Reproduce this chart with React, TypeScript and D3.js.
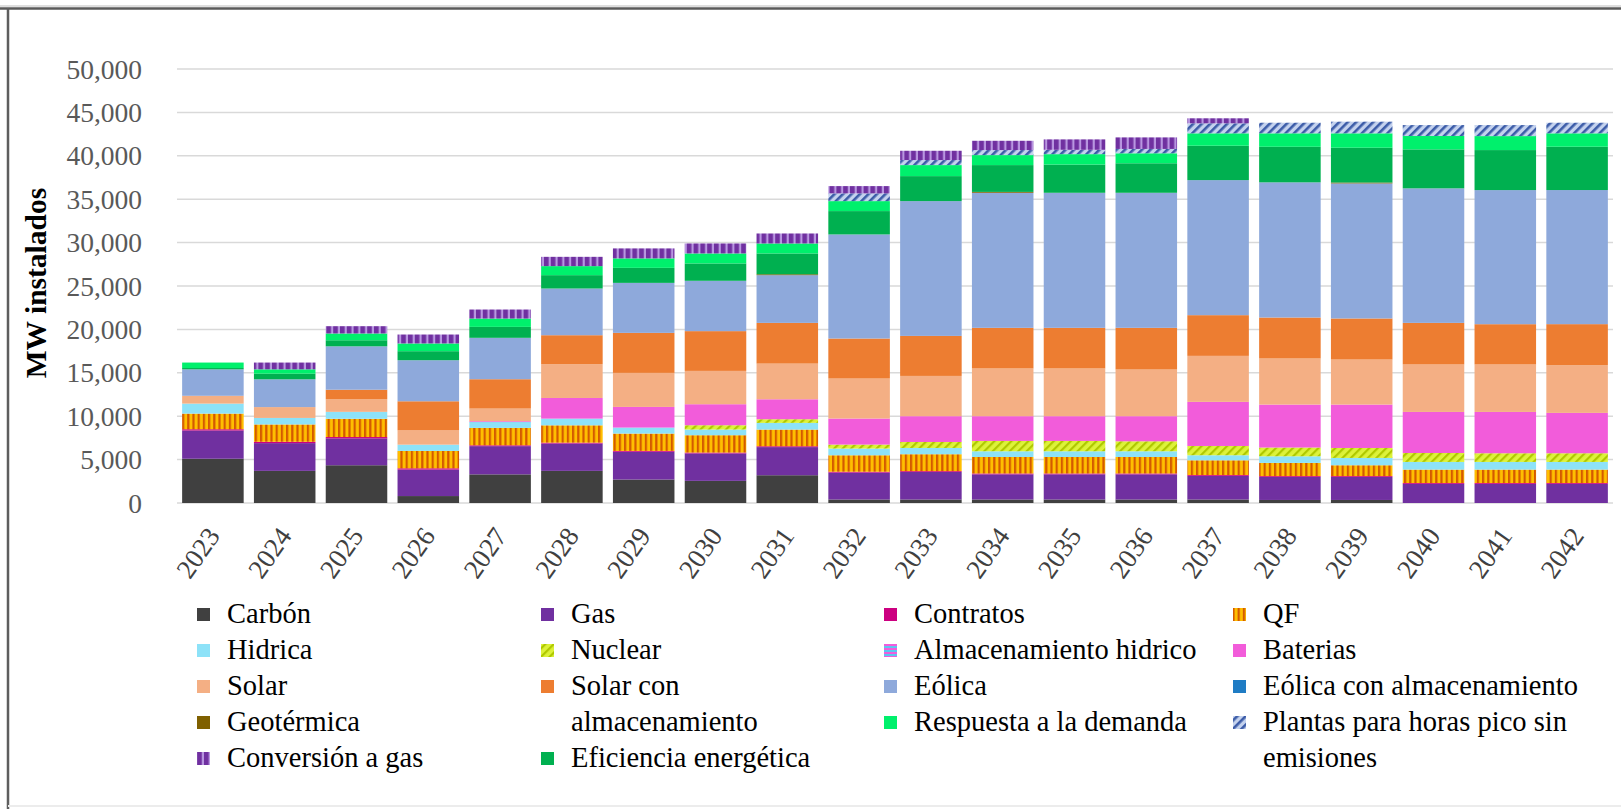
import React from "react";
import * as d3 from "d3";

const years = ["2023","2024","2025","2026","2027","2028","2029","2030","2031","2032","2033","2034","2035","2036","2037","2038","2039","2040","2041","2042"];

const carbon = [5100,3700,4350,800,3300,3700,2700,2550,3200,400,400,400,400,400,400,350,350,0,0,0];
const gas = [3250,3200,3100,3050,3250,3150,3200,3160,3240,3100,3170,2900,2900,2900,2720,2650,2650,2200,2200,2200];
const contratos = [150,150,150,150,100,100,100,100,100,100,100,100,100,100,100,100,100,100,100,100];
const qf = [1800,2000,2100,2000,2000,2000,2000,2000,1920,1900,1950,1900,1900,1900,1700,1520,1250,1550,1550,1550];
const hidrica = [1150,750,800,720,620,770,690,650,770,770,720,660,660,660,580,760,840,880,880,880];
const nuclear = [0,0,0,0,0,0,0,500,420,460,690,1190,1190,1150,1070,1010,1150,1030,1000,1000];
const almHidrico = [0,0,0,0,150,0,0,0,0,0,0,0,0,0,0,0,0,0,0,0];
const baterias = [0,0,0,0,0,2380,2380,2420,2300,3000,2970,2850,2850,2890,5080,4950,5000,4730,4760,4650];
const solar = [900,1250,1450,1650,1460,3890,3920,3840,4110,4610,4640,5500,5500,5380,5300,5310,5190,5470,5470,5500];
const solarAlm = [0,0,1100,3350,3380,3340,4610,4580,4690,4610,4610,4680,4680,4800,4690,4720,4730,4790,4640,4725];
const eolica = [3050,3200,5000,4730,4770,5380,5760,5800,5500,11990,15530,15560,15560,15560,15560,15570,15560,15500,15450,15450];
const eolicaAlm = [0,0,0,0,0,0,0,0,0,0,0,0,0,0,0,0,0,0,0,0];
const geotermica = [0,0,0,0,0,0,0,0,100,0,0,100,0,0,0,0,100,0,0,0];
const eficiencia = [150,650,700,1040,1260,1540,1730,2000,2400,2690,2880,3090,3250,3400,3960,4100,4010,4490,4610,4990];
const respuesta = [630,500,780,890,960,1040,1090,1150,1150,1150,1270,1150,1200,1150,1430,1550,1660,1540,1610,1545];
const plantasPico = [0,0,0,0,0,0,0,0,0,890,580,580,500,500,1150,1220,1340,1260,1270,1220];
const conversion = [0,780,840,1030,1040,1070,1150,1150,1150,840,1070,1070,1200,1330,580,0,0,0,0,0];

const yTicks = [0,5000,10000,15000,20000,25000,30000,35000,40000,45000,50000];

const seriesDefs = [
  { key: "carbon", name: "Carbón", values: carbon, fill: "#404040" },
  { key: "gas", name: "Gas", values: gas, fill: "#7030A0" },
  { key: "contratos", name: "Contratos", values: contratos, fill: "#CC0080" },
  { key: "qf", name: "QF", values: qf, fill: "url(#pQF)" },
  { key: "hidrica", name: "Hidrica", values: hidrica, fill: "#8DE2F8" },
  { key: "nuclear", name: "Nuclear", values: nuclear, fill: "url(#pNuc)" },
  { key: "almHidrico", name: "Almacenamiento hidrico", values: almHidrico, fill: "url(#pAlm)" },
  { key: "baterias", name: "Baterias", values: baterias, fill: "#F25CDA" },
  { key: "solar", name: "Solar", values: solar, fill: "#F4AF84" },
  { key: "solarAlm", name: "Solar con almacenamiento", values: solarAlm, fill: "#ED7D31" },
  { key: "eolica", name: "Eólica", values: eolica, fill: "#8EA9DB" },
  { key: "eolicaAlm", name: "Eólica con almacenamiento", values: eolicaAlm, fill: "#1F7CC4" },
  { key: "geotermica", name: "Geotérmica", values: geotermica, fill: "#7F6000" },
  { key: "eficiencia", name: "Eficiencia energética", values: eficiencia, fill: "#00B050" },
  { key: "respuesta", name: "Respuesta a la demanda", values: respuesta, fill: "#00F06C" },
  { key: "plantasPico", name: "Plantas para horas pico sin emisiones", values: plantasPico, fill: "url(#pPico)" },
  { key: "conversion", name: "Conversión a gas", values: conversion, fill: "url(#pConv)" },
];

// legend layout: column, row, lines
const legendItems: { key: string; col: number; row: number; lines: string[] }[] = [
  { key: "carbon", col: 0, row: 0, lines: ["Carbón"] },
  { key: "hidrica", col: 0, row: 1, lines: ["Hidrica"] },
  { key: "solar", col: 0, row: 2, lines: ["Solar"] },
  { key: "geotermica", col: 0, row: 3, lines: ["Geotérmica"] },
  { key: "conversion", col: 0, row: 4, lines: ["Conversión a gas"] },
  { key: "gas", col: 1, row: 0, lines: ["Gas"] },
  { key: "nuclear", col: 1, row: 1, lines: ["Nuclear"] },
  { key: "solarAlm", col: 1, row: 2, lines: ["Solar con", "almacenamiento"] },
  { key: "eficiencia", col: 1, row: 4, lines: ["Eficiencia energética"] },
  { key: "contratos", col: 2, row: 0, lines: ["Contratos"] },
  { key: "almHidrico", col: 2, row: 1, lines: ["Almacenamiento hidrico"] },
  { key: "eolica", col: 2, row: 2, lines: ["Eólica"] },
  { key: "respuesta", col: 2, row: 3, lines: ["Respuesta a la demanda"] },
  { key: "qf", col: 3, row: 0, lines: ["QF"] },
  { key: "baterias", col: 3, row: 1, lines: ["Baterias"] },
  { key: "eolicaAlm", col: 3, row: 2, lines: ["Eólica con almacenamiento"] },
  { key: "plantasPico", col: 3, row: 3, lines: ["Plantas para horas pico sin", "emisiones"] },
];

const W = 1621;
const H = 809;
const FONT = '"Times New Roman", "Liberation Serif", Tinos, "DejaVu Serif", serif';

export default function App() {
  const x = d3.scaleBand<string>().domain(years).range([177, 1613]).paddingInner(0.143).paddingOuter(0.0715);
  const y = d3.scaleLinear().domain([0, 50000]).range([503, 69]);

  const table = years.map((yr, i) => {
    const row: any = { year: yr };
    seriesDefs.forEach((s) => (row[s.key] = s.values[i]));
    return row;
  });
  const stacked = d3.stack<any>().keys(seriesDefs.map((s) => s.key))(table);

  const legendColX = [227, 571, 914, 1263];
  const legendRowY = [623, 659, 695, 731, 767];
  const fillOf = (k: string) => seriesDefs.find((s) => s.key === k)!.fill;
  const tStyle = { fontFamily: FONT } as React.CSSProperties;

  return (
    <svg width={W} height={H} style={{ position: "absolute", left: 0, top: 0, background: "#fff", fontFamily: FONT }}>
      <defs>
        <pattern id="pQF" patternUnits="userSpaceOnUse" width="5.2" height="10">
          <rect width="5.2" height="10" fill="#FFBE00" />
          <rect x="0" width="2.2" height="10" fill="#D45A00" />
        </pattern>
        <pattern id="pConv" patternUnits="userSpaceOnUse" width="6.8" height="10">
          <rect width="6.8" height="10" fill="#7030A0" />
          <rect x="4.6" width="2.2" height="10" fill="#B896E0" />
        </pattern>
        <pattern id="pNuc" patternUnits="userSpaceOnUse" width="6" height="6" patternTransform="rotate(45)">
          <rect width="6" height="6" fill="#DDF23A" />
          <rect width="2.2" height="6" fill="#AFC800" />
        </pattern>
        <pattern id="pPico" patternUnits="userSpaceOnUse" width="6" height="6" patternTransform="rotate(45)">
          <rect width="6" height="6" fill="#C4D2EE" />
          <rect width="2.6" height="6" fill="#3C5CA8" />
        </pattern>
        <pattern id="pAlm" patternUnits="userSpaceOnUse" width="10" height="4">
          <rect width="10" height="4" fill="#F05CDC" />
          <rect y="2" width="10" height="2" fill="#5BC6F0" />
        </pattern>
      </defs>

      <rect x={0} y={0} width={W} height={H} fill="#fff" />

      {/* frame */}
      <line x1={0} x2={W} y1={6} y2={6} stroke="#bdbdbd" strokeWidth={1} />
      <line x1={0} x2={W} y1={8.5} y2={8.5} stroke="#5a5a5a" strokeWidth={2.5} />
      <line x1={8} x2={8} y1={8} y2={H} stroke="#5e5e5e" strokeWidth={2.5} />
      <line x1={8} x2={W} y1={806} y2={806} stroke="#ececec" strokeWidth={2} />

      {/* gridlines */}
      {yTicks.map((t) => (
        <line key={t} x1={177} x2={1613} y1={y(t)} y2={y(t)} stroke="#D9D9D9" strokeWidth={1.5} />
      ))}

      {/* y tick labels */}
      {yTicks.map((t) => (
        <text key={"l" + t} x={142} y={y(t)} dy="0.35em" textAnchor="end" fontSize={27.5} fill="#595959" style={tStyle}>
          {d3.format(",")(t)}
        </text>
      ))}

      {/* y title */}
      <text
        transform={`translate(46, ${283}) rotate(-90)`}
        textAnchor="middle"
        fontSize={29.5}
        fontWeight="bold"
        fill="#000"
        style={tStyle}
      >
        MW instalados
      </text>

      {/* bars */}
      {stacked.map((layer, li) => (
        <g key={layer.key} fill={seriesDefs[li].fill}>
          {layer.map((d, i) =>
            d[1] - d[0] > 0 ? (
              <rect
                key={i}
                x={x(years[i])}
                width={x.bandwidth()}
                y={y(d[1])}
                height={y(d[0]) - y(d[1])}
              />
            ) : null
          )}
        </g>
      ))}

      {/* x labels */}
      {years.map((yr) => (
        <text
          key={yr}
          transform={`translate(${(x(yr) as number) + x.bandwidth() / 2 + 8}, 536) rotate(-55)`}
          textAnchor="end"
          fontSize={27}
          fill="#404040"
          style={tStyle}
        >
          {yr}
        </text>
      ))}

      {/* legend */}
      {legendItems.map((it) => {
        const tx = legendColX[it.col];
        const ty = legendRowY[it.row];
        return (
          <g key={it.key}>
            <rect x={tx - 30} y={ty - 15} width={13} height={13} fill={fillOf(it.key)} />
            {it.lines.map((ln, j) => (
              <text key={j} x={tx} y={legendRowY[it.row + j]} fontSize={28.5} fill="#000" style={tStyle}>
                {ln}
              </text>
            ))}
          </g>
        );
      })}
    </svg>
  );
}
